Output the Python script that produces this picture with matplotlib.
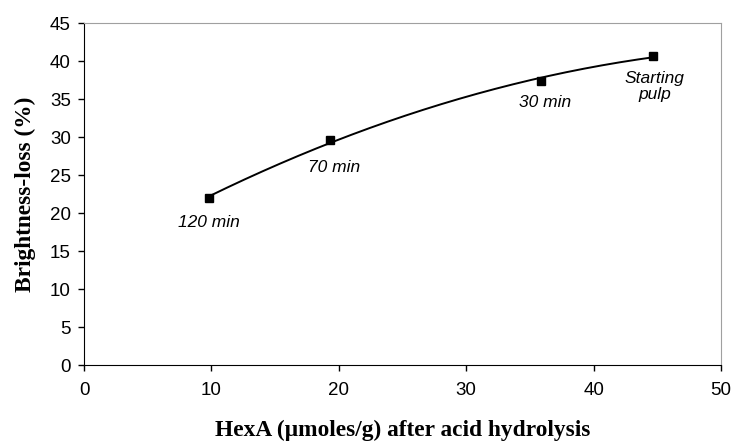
import numpy as np
import matplotlib.pyplot as plt

hexa = [9.8, 19.3, 35.9, 44.7]
loss = [22.0, 29.6, 37.4, 40.7]
labels = ["120 min", "70 min", "30 min", "Starting\npulp"]
label_offsets = [(0, -18), (3, -20), (3, -16), (1, -22)]

fig = plt.figure(figsize=(7.32, 4.43), dpi=100)
ax = fig.add_axes([84 / 732, 78 / 443, 637 / 732, 342 / 443])

# 2nd-order trend line over the data range
coef = np.polyfit(hexa, loss, 2)
xs = np.linspace(min(hexa), max(hexa), 200)
ax.plot(xs, np.polyval(coef, xs), color='black', lw=1.4, zorder=2)
ax.plot(hexa, loss, 's', color='black', ms=6, zorder=3)

for x, y, lab, off in zip(hexa, loss, labels, label_offsets):
    ax.annotate(lab, (x, y), xytext=off, textcoords='offset points',
                ha='center', va='center', style='italic',
                family='Liberation Sans', fontsize=12.5, linespacing=1.05)

ax.set_xlim(0, 50)
ax.set_ylim(0, 45)
ax.set_xticks(range(0, 51, 10))
ax.set_yticks(range(0, 46, 5))
for s in ['top', 'right']:
    ax.spines[s].set_color('#a0a0a0')
for s in ['left', 'bottom']:
    ax.spines[s].set_color('black')
ax.tick_params(direction='out', length=4.5, width=1, labelsize=13.5)
ax.tick_params(axis='x', pad=8)
ax.tick_params(axis='y', pad=5)
for t in ax.get_xticklabels() + ax.get_yticklabels():
    t.set_family('Liberation Sans')

ax.set_xlabel("HexA (\u00b5moles/g) after acid hydrolysis", family='Liberation Serif',
              fontweight='bold', fontsize=16.8, labelpad=15)
ax.set_ylabel("Brightness-loss (%)", family='Liberation Serif',
              fontweight='bold', fontsize=16.8, labelpad=10)

fig.savefig('out.png', dpi=100)
